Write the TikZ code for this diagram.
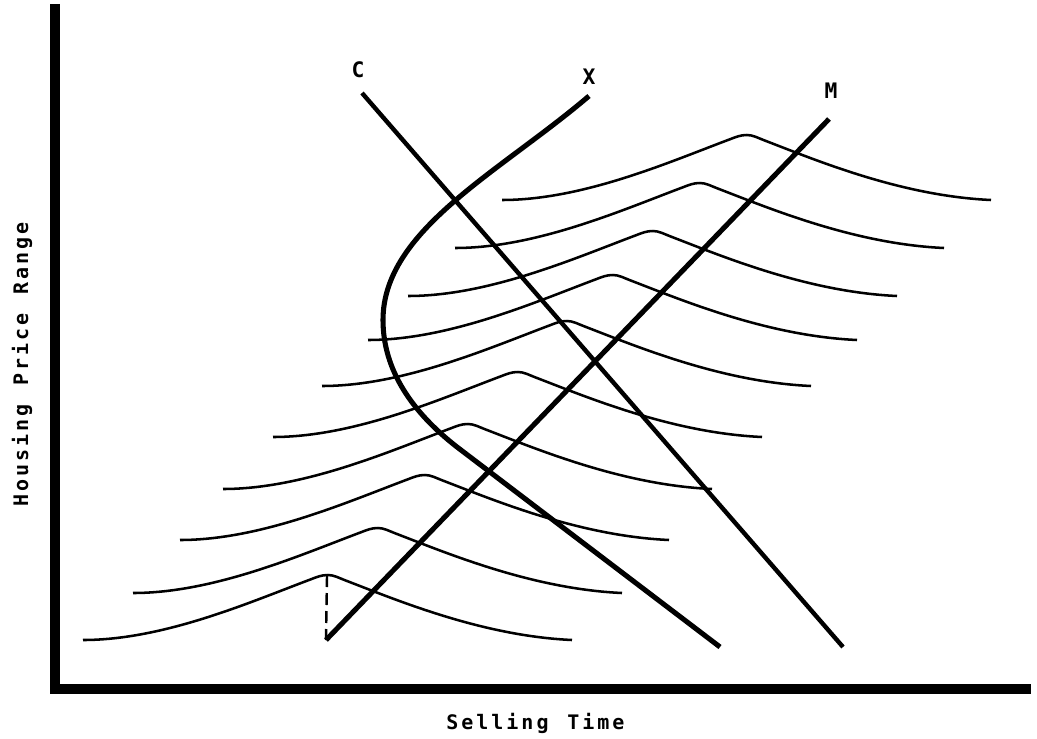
\documentclass[tikz,border=0pt]{standalone}
\usepackage{fontspec}
\newfontfamily\labelfont[LetterSpace=15,WordSpace=1.25]{DejaVu Sans Mono Bold}
\newfontfamily\tagfont{DejaVu Sans Mono Bold}
\begin{document}
\begin{tikzpicture}[x=0.75pt,y=-0.75pt,
  axisline/.style={line width=6.8pt, line join=miter},
  heavy/.style={line width=3.8pt},
  medium/.style={line width=3.3pt},
  bellline/.style={line width=1.9pt},
  dropline/.style={line width=1.8pt, dash pattern=on 9pt off 4.5pt},
  lbl/.style={font=\labelfont\fontsize{15}{18}\selectfont, inner sep=0pt},
  tag/.style={font=\tagfont\fontsize{16}{19}\selectfont, inner sep=0pt},
  bell/.pic={
    \draw[bellline] (0,0) .. controls (80,0) and (165,-37) .. (226,-60)
      .. controls (234,-63) and (238,-65) .. (245,-65)
      .. controls (251,-65) and (256,-62) .. (264,-59)
      .. controls (316,-39) and (400,-4) .. (489,0);
  }]
\useasboundingbox (0,0) rectangle (1037,738);

% axes
\coordinate (Ytop) at (55,4);
\coordinate (Orig) at (55,689);
\coordinate (Xend) at (1031,689);
\draw[axisline] (Ytop) -- (Orig) -- (Xend);

% distribution curves
\pic at (83,640) {bell};
\pic at (133,593) {bell};
\pic at (180,540) {bell};
\pic at (223,489) {bell};
\pic at (273,437) {bell};
\pic at (322,386) {bell};
\pic at (368,340) {bell};
\pic at (408,296) {bell};
\pic at (455,248) {bell};
\pic at (502,200) {bell};

% dashed drop line
\coordinate (Peak1) at (327,575);
\coordinate (Mbot) at (326,640);
\draw[dropline] (Peak1) -- (Mbot);

% C line
\coordinate (Ctop) at (362,93);
\coordinate (Cbot) at (843,647);
\draw[medium] (Ctop) -- (Cbot);

% M line
\coordinate (Mtop) at (829,119);
\draw[heavy] (Mbot) -- (Mtop);

% X curve
\coordinate (Xtop) at (589,96);
\coordinate (Xmid) at (457,447);
\coordinate (Xbot) at (720,647);
\draw[heavy] (Xtop) .. controls (500,172) and (383,230) .. (383,320)
  .. controls (383,370) and (412,412) .. (Xmid) -- (Xbot);

% labels
\node[tag] (labC) at (358,70) {C};
\node[tag] (labX) at (589,77) {X};
\node[tag] (labM) at (831,91) {M};
\node[lbl, anchor=base west] (xlab) at (446,729) {Selling Time};
\node[lbl, anchor=base west, rotate=90] (ylab) at (28,507) {Housing Price Range};
\end{tikzpicture}
\end{document}
